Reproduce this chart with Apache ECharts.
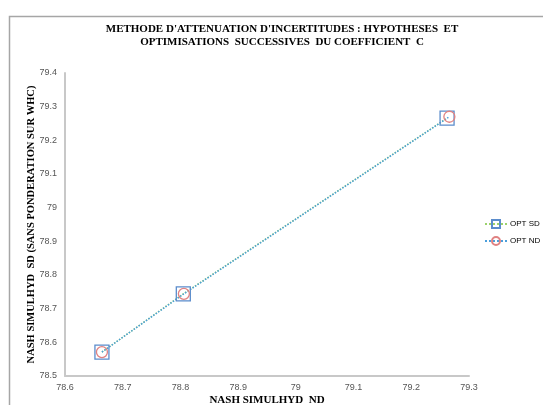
<!DOCTYPE html>
<html><head><meta charset="utf-8">
<script src="https://cdn.jsdelivr.net/npm/echarts@6/dist/echarts.min.js"></script>
<style>html,body{margin:0;padding:0;background:#fff}#c{width:543px;height:405px}</style>
</head><body><div id="c"></div>
<script>
const titleText = "METHODE D'ATTENUATION D'INCERTITUDES : HYPOTHESES  ET\nOPTIMISATIONS  SUCCESSIVES  DU COEFFICIENT  C";
const xName = "NASH SIMULHYD  ND";
const yName = "NASH SIMULHYD  SD (SANS PONDERATION SUR WHC)";
const seriesNames = ["OPT SD", "OPT ND"];
const sdX = [78.664, 78.805, 79.262];
const sdY = [78.571, 78.744, 79.266];
const ndX = [78.664, 78.806, 79.266];
const ndY = [78.571, 78.744, 79.270];

const chart = echarts.init(document.getElementById('c'));
const pairs = (xs, ys) => xs.map((x, i) => [x, ys[i]]);
chart.setOption({
  animation: false,
  backgroundColor: '#fff',
  graphic: [{type: 'rect', shape: {x: 9.5, y: 16.5, width: 700, height: 500}, style: {fill: 'none', stroke: '#a6a6a6', lineWidth: 1.5}, silent: true}],
  title: {text: titleText, left: 277, top: 18, textAlign: 'center',
    textStyle: {fontFamily: 'Liberation Serif', fontWeight: 'bold', fontSize: 11, color: '#000', lineHeight: 13}},
  grid: {left: 65, right: 74, top: 73, bottom: 29, containLabel: false, outerBoundsMode: 'none'},
  legend: {orient: 'vertical', left: 479, top: 214, itemWidth: 22, itemHeight: 10, itemGap: 7,
    textStyle: {fontFamily: 'Liberation Sans', fontSize: 8, color: '#000', padding: [0,0,0,-2]}, data: seriesNames},
  xAxis: {type: 'value', min: 78.6, max: 79.3, interval: 0.1,
    name: xName, nameLocation: 'middle', nameGap: 19, nameMoveOverlap: false,
    nameTextStyle: {fontFamily: 'Liberation Serif', fontWeight: 'bold', fontSize: 11, color: '#000'},
    axisLine: {lineStyle: {color: '#c8c8c8', width: 2}}, axisTick: {show: false}, splitLine: {show: false},
    axisLabel: {fontFamily: 'Liberation Sans', fontSize: 9, color: '#555', margin: 7}},
  yAxis: {type: 'value', min: 78.5, max: 79.4, interval: 0.1,
    name: yName, nameLocation: 'middle', nameGap: 28, nameMoveOverlap: false,
    nameTextStyle: {fontFamily: 'Liberation Serif', fontWeight: 'bold', fontSize: 10.5, color: '#000'},
    axisLine: {show: true, lineStyle: {color: '#c8c8c8', width: 2}}, axisTick: {show: false}, splitLine: {show: false},
    axisLabel: {fontFamily: 'Liberation Sans', fontSize: 9, color: '#555', margin: 8}},
  series: [
    {name: seriesNames[0], type: 'line', data: pairs(sdX, sdY), symbol: 'rect', symbolSize: 14,
     lineStyle: {color: '#9bd16b', width: 1.5, type: 'dotted'},
     itemStyle: {color: 'rgba(255,255,255,0)', borderColor: '#5b8ccc', borderWidth: 1.3}},
    {name: seriesNames[1], type: 'line', data: pairs(ndX, ndY), symbol: 'circle', symbolSize: 11,
     lineStyle: {color: '#4a9fdc', width: 1.5, type: 'dotted'},
     itemStyle: {color: 'rgba(255,255,255,0)', borderColor: '#e08282', borderWidth: 1.3}}
  ]
});
</script></body></html>
